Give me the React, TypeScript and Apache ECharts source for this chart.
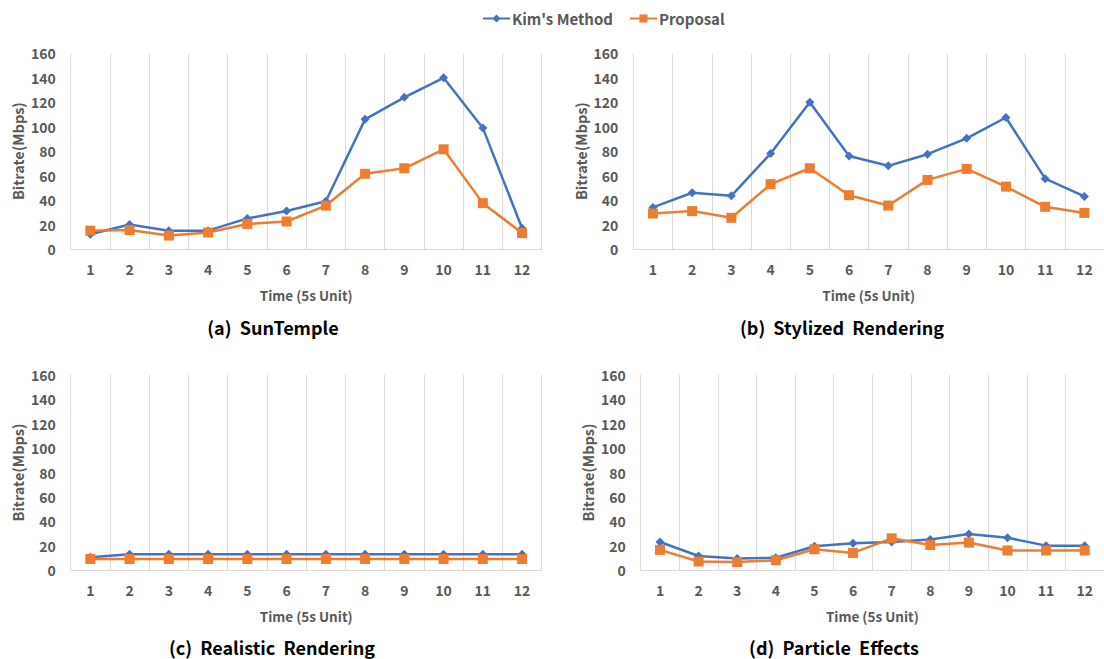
import React, { useEffect, useRef } from "react";
import * as echarts from "echarts";

const categories = ["1", "2", "3", "4", "5", "6", "7", "8", "9", "10", "11", "12"];
const yTicks = [0, 20, 40, 60, 80, 100, 120, 140, 160];

const kimA = [12, 20, 15, 15, 25, 31, 39, 106, 124, 140, 99, 17];
const propA = [15, 15.5, 11, 13.5, 20.5, 22.5, 35.5, 61.5, 66, 81.5, 37.5, 13];

const kimB = [34, 46, 43.5, 78, 120, 76, 68, 77.5, 90.5, 107.5, 57.5, 43];
const propB = [29, 31, 25.5, 53, 66, 44, 35.5, 56.5, 65.5, 51, 34.5, 29.5];

const kimC = [10.5, 13, 13, 13, 13, 13, 13, 13, 13, 13, 13, 13];
const propC = [9, 9, 9, 9, 9, 9, 9, 9, 9, 9, 9, 9];

const kimD = [23, 11.5, 9.5, 10, 19.5, 22, 23, 25, 29.5, 26.5, 20, 20];
const propD = [16.5, 7, 6.5, 8, 17, 14, 26, 20.5, 22.5, 16, 16, 16];

const panelTitles = ["(a)  SunTemple", "(b)  Stylized  Rendering", "(c)  Realistic  Rendering", "(d)  Particle  Effects"];
const seriesNames = ["Kim's Method", "Proposal"];

const KIM_COLOR = "#4472C4";
const PROP_COLOR = "#ED7D31";
const FONT = "'Noto Sans CJK KR', 'Noto Sans', sans-serif";

export default function App() {
  const ref = useRef<HTMLDivElement>(null);
  useEffect(() => {
    if (!ref.current) return;
    const chart = echarts.init(ref.current, undefined, { renderer: "svg" });
    const grids = [
      { left: 70.7, top: 53.3, width: 471, height: 195.7 },
      { left: 633.3, top: 53.3, width: 471, height: 195.7 },
      { left: 70.7, top: 375, width: 471, height: 195 },
      { left: 640.7, top: 375, width: 471, height: 195 },
    ];
    const kims = [kimA, kimB, kimC, kimD];
    const props = [propA, propB, propC, propD];
    const titleCenters = [
      { x: 273, y: 327 },
      { x: 842, y: 327 },
      { x: 272, y: 647 },
      { x: 834, y: 647 },
    ];
    const labelStyle = { color: "#595959", fontFamily: FONT, fontWeight: "bold" as const, fontSize: 14 };
    const option: any = {
      animation: false,
      textStyle: { fontFamily: FONT },
      legend: {
        top: 6,
        left: 477,
        itemWidth: 27,
        itemHeight: 10,
        itemGap: 16,
        textStyle: { color: "#595959", fontFamily: FONT, fontWeight: "bold", fontSize: 15, padding: [0, 0, 0, -3] },
        data: seriesNames,
      },
      graphic: titleCenters.map((c, i) => ({
        type: "text",
        x: c.x,
        y: c.y,
        style: {
          text: panelTitles[i],
          fill: "#000",
          font: `bold 18px ${FONT}`,
          textAlign: "center",
          textVerticalAlign: "middle",
        },
      })),
      grid: grids,
      xAxis: grids.map((_, i) => ({
        type: "category",
        gridIndex: i,
        data: categories,
        boundaryGap: true,
        axisLine: { show: true, lineStyle: { color: "#D9D9D9", width: 1 } },
        axisTick: { show: false },
        splitLine: { show: true, lineStyle: { color: "#D9D9D9", width: 1 } },
        axisLabel: { ...labelStyle, margin: 13 },
        name: "Time (5s Unit)",
        nameLocation: "middle",
        nameGap: 39,
        nameTextStyle: { color: "#595959", fontFamily: FONT, fontWeight: "bold", fontSize: 13.5 },
      })),
      yAxis: grids.map((_, i) => ({
        type: "value",
        gridIndex: i,
        min: yTicks[0],
        max: yTicks[yTicks.length - 1],
        interval: 20,
        axisLine: { show: false },
        axisTick: { show: false },
        splitLine: { show: false },
        axisLabel: { ...labelStyle, margin: 15 },
        name: "Bitrate(Mbps)",
        nameLocation: "middle",
        nameGap: 46,
        nameTextStyle: { color: "#595959", fontFamily: FONT, fontWeight: "bold", fontSize: 14.5 },
      })),
      series: grids.flatMap((_, i) => [
        {
          name: seriesNames[0],
          type: "line",
          xAxisIndex: i,
          yAxisIndex: i,
          data: kims[i],
          symbol: "diamond",
          symbolSize: 9,
          itemStyle: { color: KIM_COLOR },
          lineStyle: { color: KIM_COLOR, width: 2.5 },
          z: 2,
        },
        {
          name: seriesNames[1],
          type: "line",
          xAxisIndex: i,
          yAxisIndex: i,
          data: props[i],
          symbol: "rect",
          symbolSize: 10,
          itemStyle: { color: PROP_COLOR },
          lineStyle: { color: PROP_COLOR, width: 2.5 },
          z: 3,
        },
      ]),
    };
    chart.setOption(option);
    return () => chart.dispose();
  }, []);
  return (
    <div
      ref={ref}
      style={{ position: "absolute", left: 0, top: 0, width: 1104, height: 659, background: "#fff" }}
    />
  );
}
